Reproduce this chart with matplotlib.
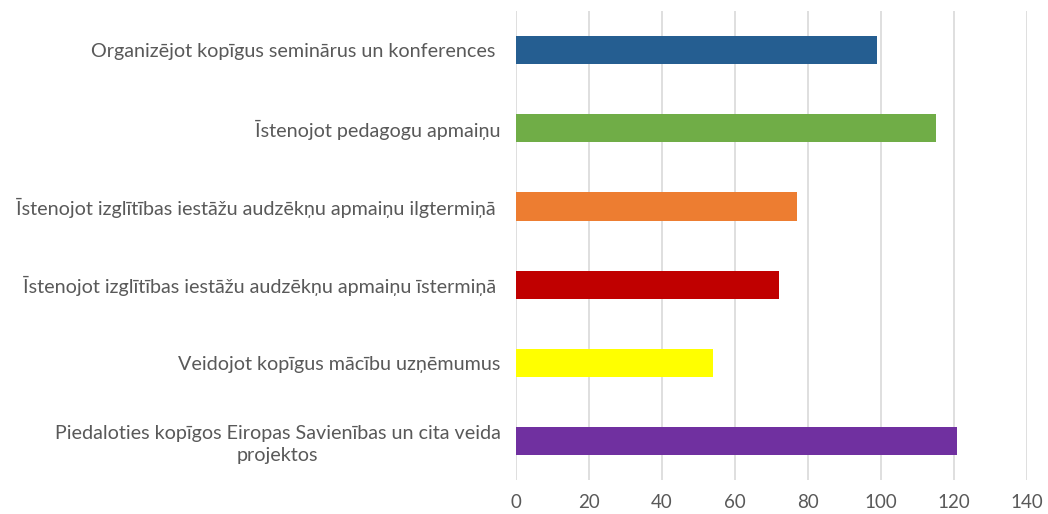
import matplotlib
matplotlib.use("Agg")
import matplotlib.pyplot as plt

# categories top to bottom as in the chart
categories = [
    "Organizējot kopīgus seminārus un konferences ",
    "Īstenojot pedagogu apmaiņu",
    "Īstenojot izglītības iestāžu audzēkņu apmaiņu ilgtermiņā ",
    "Īstenojot izglītības iestāžu audzēkņu apmaiņu īstermiņā ",
    "Veidojot kopīgus mācību uzņēmumus",
    "Piedaloties kopīgos Eiropas Savienības un cita veida\nprojektos",
]
values = [99, 115, 77, 72, 54, 121]
colors = ["#255E91", "#70AD47", "#ED7D31", "#C00000", "#FFFF00", "#7030A0"]
xticks = [0, 20, 40, 60, 80, 100, 120, 140]

plt.rcParams['font.family'] = ['Lato', 'DejaVu Sans']
text_color = "#595959"

fig = plt.figure(figsize=(10.48, 5.14), dpi=100)
ax = fig.add_axes([0.4924, 0.066, 0.4873, 0.9126])

y = list(range(len(categories)))
ax.barh(y, values, height=0.36, color=colors, zorder=3)
ax.set_ylim(len(categories) - 0.5, -0.5)
ax.set_xlim(0, 140)
ax.set_xticks(xticks)
ax.set_yticks(y)
ax.set_yticklabels(categories, fontsize=14.2, color=text_color)
for lbl in ax.get_yticklabels():
    lbl.set_multialignment('center')
    lbl.set_linespacing(1.3)
ax.tick_params(axis='x', labelsize=13.5, colors=text_color, length=0, pad=10)
ax.tick_params(axis='y', length=0, pad=11)
ax.grid(axis='x', color="#D9D9D9", linewidth=1.2, zorder=0)
for s in ax.spines.values():
    s.set_visible(False)

fig.savefig("out.png", dpi=100)
